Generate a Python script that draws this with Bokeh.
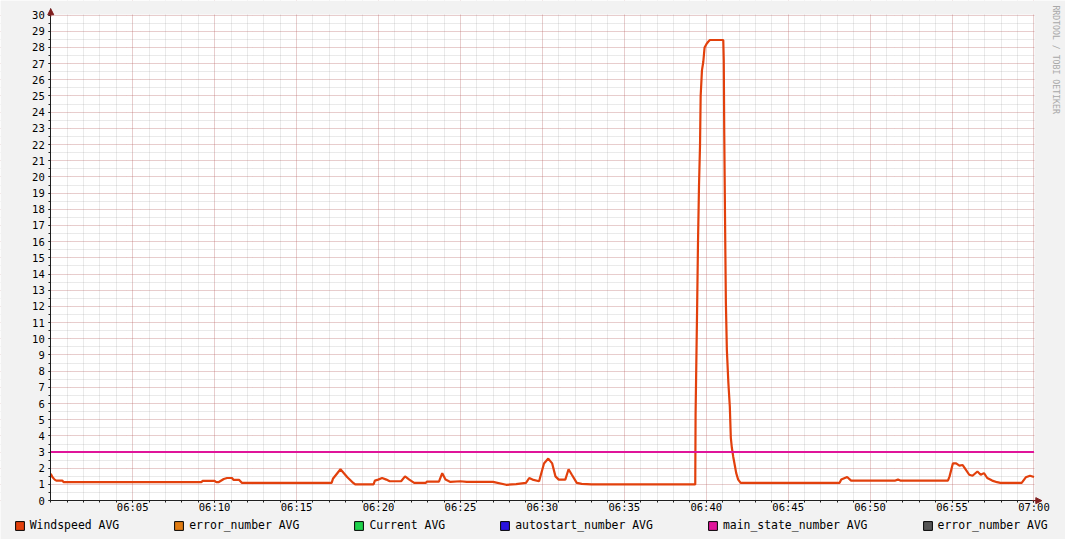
import math
from bokeh.plotting import figure
from bokeh.models import (FixedTicker, Legend, LegendItem, Label, Arrow,
                          NormalHead, Range1d, BoxAnnotation)
from bokeh.embed import file_html
from bokeh.resources import INLINE

# ---- data (time = minutes after 06:00) ----
wind_t = [0.00, 0.10, 0.24, 0.34, 0.70, 0.78, 9.20, 9.26, 10.00, 10.10, 10.26,
          10.56, 10.76, 11.06, 11.16, 11.50, 11.66,
          17.14, 17.22, 17.68, 18.10, 18.40, 18.58, 19.70, 19.78, 19.98, 20.22,
          20.48, 20.68, 21.38, 21.62, 21.88, 22.18, 22.89, 22.95, 23.69, 23.89,
          24.09, 24.39, 24.99, 25.39, 26.99, 27.79, 28.40, 29.00, 29.20, 29.40,
          29.80, 30.10, 30.36, 30.60, 30.80, 31.00, 31.40, 31.60, 31.80, 32.10,
          32.40, 33.00, 39.33,
          39.35, 39.44, 39.50, 39.56, 39.62, 39.66, 39.74, 39.82, 39.90, 40.01,
          40.12, 40.22, 41.04, 41.07, 41.10, 41.16, 41.20, 41.26, 41.35, 41.44,
          41.50, 41.56, 41.65, 41.74, 41.83, 41.95, 42.10,
          48.14, 48.24, 48.60, 48.84, 51.54, 51.70, 51.84, 54.75, 54.85, 55.05,
          55.25, 55.45, 55.65, 55.85, 56.05, 56.25, 56.55, 56.75, 56.95, 57.15,
          57.45, 57.75, 57.95, 59.25, 59.50, 59.76, 60.00]
wind_v = [1.66, 1.46, 1.30, 1.24, 1.24, 1.15, 1.15, 1.22, 1.22, 1.15, 1.15,
          1.34, 1.40, 1.40, 1.28, 1.28, 1.10,
          1.10, 1.35, 1.94, 1.45, 1.15, 1.00, 1.00, 1.24, 1.30, 1.40,
          1.30, 1.20, 1.20, 1.50, 1.30, 1.10, 1.10, 1.18, 1.18, 1.70,
          1.30, 1.16, 1.20, 1.16, 1.16, 0.98, 1.02, 1.10, 1.40, 1.30,
          1.20, 2.30, 2.60, 2.30, 1.50, 1.30, 1.30, 1.94, 1.60, 1.10,
          1.04, 1.00, 1.00,
          5.30, 11.60, 16.10, 19.50, 21.90, 25.00, 26.60, 27.10, 28.00, 28.20,
          28.35, 28.46, 28.46, 27.20, 22.70, 16.10, 12.20, 9.30, 7.30, 5.80,
          3.90, 3.30, 2.70, 2.20, 1.70, 1.30, 1.10,
          1.10, 1.30, 1.46, 1.24, 1.24, 1.30, 1.24, 1.24, 1.50, 2.30,
          2.30, 2.16, 2.20, 1.90, 1.60, 1.54, 1.80, 1.60, 1.70, 1.40,
          1.24, 1.14, 1.10, 1.10, 1.44, 1.54, 1.46]

state_t = [0, 60]
state_v = [3, 3]

x_ticks = [5, 10, 15, 20, 25, 30, 35, 40, 45, 50, 55, 60]
x_tick_labels = ["06:05", "06:10", "06:15", "06:20", "06:25", "06:30",
                 "06:35", "06:40", "06:45", "06:50", "06:55", "07:00"]
y_ticks = list(range(0, 31))

legend_labels = ["Windspeed AVG", "error_number AVG", "Current AVG",
                 "autostart_number AVG", "main_state_number AVG", "error_number AVG"]
legend_colors = ["#e2400c", "#e07c12", "#1fd34c", "#2a14e0", "#e0149a", "#555555"]

FONT = "DejaVu Sans Mono"
BACK = "#f2f2f2"
NAN = float("nan")

# the frame covers the whole picture; the canvas (0..60 min, 0..30) sits inside it
X0, X1 = -3.066, 61.924
Y0, Y1 = -2.400, 30.900

p = figure(width=1065, height=539, output_backend="svg", toolbar_location=None,
           x_range=Range1d(X0, X1), y_range=Range1d(Y0, Y1),
           min_border=0, min_border_left=0, min_border_right=0,
           min_border_top=0, min_border_bottom=0)
p.background_fill_color = "white"
p.border_fill_color = BACK
p.outline_line_color = None

# axes, fixed at the canvas origin
p.xaxis.fixed_location = 0
p.yaxis.fixed_location = 0
p.xaxis.ticker = FixedTicker(ticks=x_ticks, minor_ticks=list(range(0, 61)))
p.xaxis.major_label_overrides = {t: l for t, l in zip(x_ticks, x_tick_labels)}
p.yaxis.ticker = FixedTicker(ticks=y_ticks, minor_ticks=[i * 0.5 for i in range(61)])
p.xaxis.bounds = (0, 60.48)
p.yaxis.bounds = (0, 30.39)
for ax in (p.xaxis[0], p.yaxis[0]):
    ax.axis_line_color = "#1f1f1f"
    ax.axis_line_width = 1
    ax.major_tick_line_color = "#1f1f1f"
    ax.minor_tick_line_color = "#1f1f1f"
    ax.major_tick_in = 0
    ax.minor_tick_in = 0
    ax.major_tick_out = 2
    ax.minor_tick_out = 2
    ax.major_label_text_font = FONT
    ax.major_label_text_font_size = "10.5px"
    ax.major_label_text_color = "black"
p.xaxis.major_label_standoff = -2
p.yaxis.major_label_standoff = 4

# grids
for g in (p.xgrid[0], p.ygrid[0]):
    g.grid_line_color = "#de4f4f"
    g.grid_line_alpha = 0.38
    g.grid_line_dash = "1 1"
    g.minor_grid_line_color = "#8f8f8f"
    g.minor_grid_line_alpha = 0.38
    g.minor_grid_line_dash = "1 1"

# grey surround of the canvas (hides grid lines outside it)
for l, r, b, t in [(X0, -0.03, Y0, Y1), (X0, X1, Y0, -0.03),
                   (X0, X1, 30.03, Y1), (60.03, X1, Y0, Y1)]:
    p.add_layout(BoxAnnotation(left=l, right=r, bottom=b, top=t,
                               fill_color=BACK, fill_alpha=1, line_color=None,
                               level="underlay"))

# series
p.line(wind_t, wind_v, line_color="#e2400c", line_width=2.2)
p.line(state_t, state_v, line_color="#e0149a", line_width=2)

# arrows at axis ends
arrow_col = "#801f1f"
p.add_layout(Arrow(end=NormalHead(size=6, fill_color=arrow_col, line_color=arrow_col, line_width=1),
                   x_start=0, y_start=29.9, x_end=0, y_end=30.39,
                   line_color=arrow_col, line_width=1))
p.add_layout(Arrow(end=NormalHead(size=6, fill_color=arrow_col, line_color=arrow_col, line_width=1),
                   x_start=59.9, y_start=0, x_end=60.48, y_end=0,
                   line_color=arrow_col, line_width=1))

# legend with square swatches (swatch-only renderers, nothing plotted)
items = []
for lab, col in zip(legend_labels, legend_colors):
    r = p.quad(left=[NAN], right=[NAN], top=[NAN], bottom=[NAN], fill_color=col,
               line_color="black", line_width=1)
    items.append(LegendItem(label=lab, renderers=[r], index=0))
legend = Legend(items=items, orientation="horizontal", location=(13.7, 7.0),
                glyph_width=11, glyph_height=11, label_standoff=5, spacing=54,
                padding=0, margin=0, label_width=0, label_height=8,
                border_line_color=None, background_fill_alpha=0,
                label_text_font=FONT, label_text_font_size="11.45px",
                label_text_color="black", click_policy="none")
p.add_layout(legend)

# vertical watermark on the right
p.add_layout(Label(x=1055.2, y=534.1, x_units="screen", y_units="screen",
                   text="RRDTOOL / TOBI OETIKER", angle=-math.pi / 2,
                   text_font=FONT, text_font_size="8.2px", text_color="#a8a8a8",
                   text_align="left", text_baseline="middle"))

open("out.html", "w").write(file_html(p, INLINE))
